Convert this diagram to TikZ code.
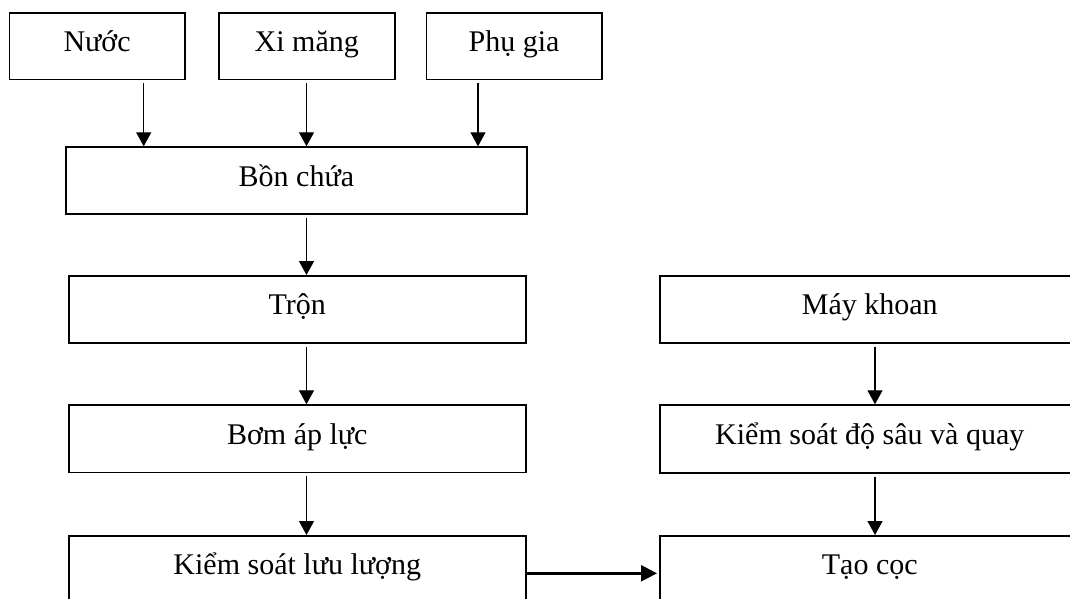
\documentclass[tikz,border=0pt]{standalone}
\usepackage{fontspec}
\setmainfont{Liberation Serif}
\usetikzlibrary{arrows.meta}
\begin{document}
\begin{tikzpicture}[x=1pt,y=-1pt,
  box/.style={draw=black,line width=1.5pt,inner sep=0pt,anchor=north west,
    font=\fontsize{30}{34}\selectfont,text height=21pt,text depth=10pt,align=center},
  arr/.style={line width=1.3pt,-{Triangle[width=15pt,length=14pt]},shorten <=3pt},
  harr/.style={line width=2.4pt,-{Triangle[width=16pt,length=16pt]}}]
\useasboundingbox (0,0) rectangle (1070,599);
\clip (0,0) rectangle (1070,599);
% top row
\node[box,minimum width=175.3pt,minimum height=66.7pt] (nuoc) at (8.7,12.3) {Nước};
\node[box,minimum width=176pt,minimum height=66.7pt] (ximang) at (218,12.3) {Xi măng};
\node[box,minimum width=175.3pt,minimum height=66.7pt] (phugia) at (425.7,12.3) {Phụ gia};
% left column
\node[box,minimum width=460.7pt,minimum height=67pt] (bonchua) at (65.3,146.3) {Bồn chứa};
\node[box,minimum width=457pt,minimum height=67.3pt] (tron) at (68,275) {Trộn};
\node[box,minimum width=457pt,minimum height=67.4pt] (bom) at (68,404.3) {Bơm áp lực};
\node[box,minimum width=457pt,minimum height=67pt] (ksll) at (68,535) {Kiểm soát lưu lượng};
% right column
\node[box,minimum width=420pt,minimum height=67.3pt] (maykhoan) at (659,275) {Máy khoan};
\node[box,minimum width=420pt,minimum height=67.7pt] (ksds) at (659,404.3) {Kiểm soát độ sâu và quay};
\node[box,minimum width=420pt,minimum height=67pt] (taococ) at (659,535) {Tạo cọc};
% arrow x positions
\coordinate (xa) at (143.7,0);
\coordinate (xb) at (306.5,0);
\coordinate (xc) at (478,0);
\coordinate (xr) at (875,0);
\coordinate (yh) at (0,573.3);
% arrows
\draw[arr] (nuoc.south -| xa) -- (bonchua.north -| xa);
\draw[arr] (ximang.south -| xb) -- (bonchua.north -| xb);
\draw[arr] (phugia.south -| xc) -- (bonchua.north -| xc);
\draw[arr] (bonchua.south -| xb) -- (tron.north -| xb);
\draw[arr] (tron.south -| xb) -- (bom.north -| xb);
\draw[arr] (bom.south -| xb) -- (ksll.north -| xb);
\draw[arr] (maykhoan.south -| xr) -- (ksds.north -| xr);
\draw[arr] (ksds.south -| xr) -- (taococ.north -| xr);
\draw[harr] (ksll.east |- yh) -- ([xshift=-2pt]taococ.west |- yh);
\end{tikzpicture}
\end{document}
